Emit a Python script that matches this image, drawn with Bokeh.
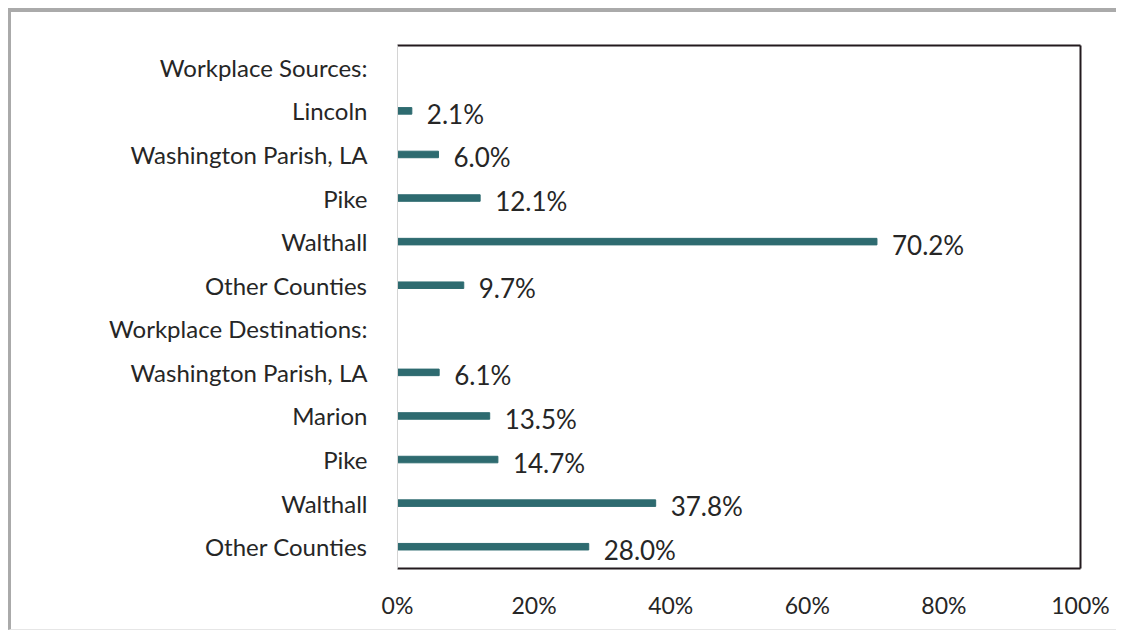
from bokeh.plotting import figure
from bokeh.models import ColumnDataSource, FixedTicker, LinearAxis, Range1d
from bokeh.embed import file_html
from bokeh.resources import INLINE
from bokeh.core.properties import value

# Data
row_labels = ["Workplace Sources:", "Lincoln", "Washington Parish, LA", "Pike", "Walthall",
              "Other Counties", "Workplace Destinations:", "Washington Parish, LA", "Marion",
              "Pike", "Walthall", "Other Counties"]
row_values = [None, 2.1, 6.0, 12.1, 70.2, 9.7, None, 6.1, 13.5, 14.7, 37.8, 28.0]
x_ticks = [0, 20, 40, 60, 80, 100]

FONT = "Lato"
TEXT = "#262626"
BAR = "#2e6b70"

pos = list(range(len(row_labels)))
bar_y = [i for i, v in zip(pos, row_values) if v is not None]
bar_v = [v for v in row_values if v is not None]
src = ColumnDataSource(dict(y=bar_y, v=bar_v, lab=[f"{v:.1f}%" for v in bar_v]))

p = figure(width=1108, height=622, output_backend="svg", toolbar_location=None,
           x_range=Range1d(0, 100), y_range=Range1d(len(row_labels) - 0.5, -0.5),
           x_axis_location=None, y_axis_location=None,
           min_border_left=386, min_border_top=33, min_border_right=39, min_border_bottom=66)
p.styles = {"margin-left": "8px", "margin-top": "8px",
            "border-left": "3px solid #aaaaaa", "border-top": "4px solid #aaaaaa",
            "border-bottom": "1px solid #e6e6e6"}
p.outline_line_color = None
p.grid.visible = False
p.background_fill_color = "white"
p.border_fill_color = "white"

p.hbar(y="y", right="v", left=0, height=0.15, source=src, color=BAR)
p.text(x="v", y="y", text="lab", source=src, x_offset=15, y_offset=3,
       text_font=value(FONT), text_font_size="26px", text_color=TEXT,
       text_align="left", text_baseline="middle")

# bottom axis
xa = LinearAxis(ticker=FixedTicker(ticks=x_ticks),
                major_label_overrides={t: f"{t}%" for t in x_ticks})
xa.axis_line_color = "#231a1e"
xa.axis_line_width = 2
xa.major_tick_line_color = None
xa.minor_tick_line_color = None
xa.major_label_standoff = 16
xa.major_label_text_font = FONT
xa.major_label_text_font_size = "23px"
xa.major_label_text_color = TEXT
p.add_layout(xa, "below")

# left axis
ya = LinearAxis(ticker=FixedTicker(ticks=pos),
                major_label_overrides={i: l for i, l in zip(pos, row_labels)})
ya.axis_line_color = "#d4d4d4"
ya.axis_line_width = 1
ya.major_tick_line_color = None
ya.minor_tick_line_color = None
ya.major_label_standoff = 24
ya.major_label_text_font = FONT
ya.major_label_text_font_size = "24px"
ya.major_label_text_color = TEXT
p.add_layout(ya, "left")

# frame lines top / right
for loc in ("above", "right"):
    ax = LinearAxis(ticker=FixedTicker(ticks=[]))
    ax.axis_line_color = "#231a1e"
    ax.axis_line_width = 2
    ax.major_tick_line_color = None
    ax.minor_tick_line_color = None
    ax.major_label_text_font_size = "0px"
    p.add_layout(ax, loc)

open("out.html", "w").write(file_html(p, INLINE))
